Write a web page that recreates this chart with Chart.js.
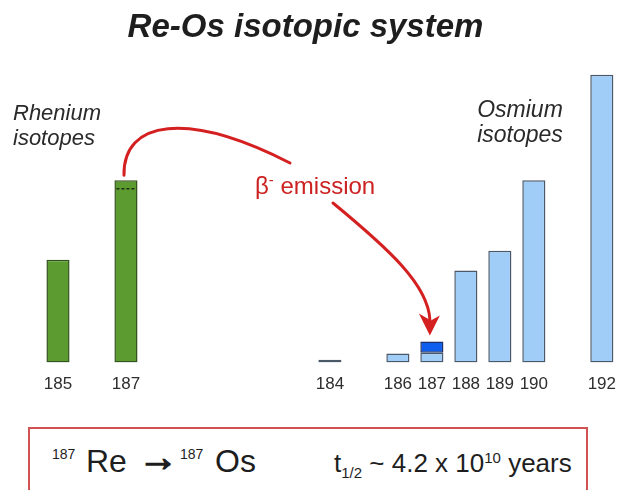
<!DOCTYPE html>
<html>
<head>
<meta charset="utf-8">
<script src="https://cdn.jsdelivr.net/npm/chart.js@4"></script>
<style>
    body {
        margin: 0;
        width: 628px;
        height: 490px;
        overflow: hidden;
        background: #fff;
        font-family: "Liberation Sans", Arial, sans-serif;
    }
    #wrap { position: relative; width: 628px; height: 490px; }
    #wrap canvas { position: absolute; left: 0; top: 0; }
    .txt { position: absolute; line-height: 1; white-space: nowrap; color: #1e1e1e; }
    .title { left: 0; width: 611px; top: 9px; text-align: center; font-size: 33px; font-weight: bold; font-style: italic; }
    .group { font-size: 22px; font-style: italic; line-height: 25px; color: #2a2a2a; }
    .beta { left: 255px; top: 172px; font-size: 24px; color: #cc2222; }
    .beta sup { font-size: 15px; vertical-align: 9px; }
    .arrow { -webkit-text-stroke: 1.4px #1e1e1e; }
    .box {
        position: absolute;
        left: 28px; top: 427px;
        width: 556px; height: 90px;
        border: 2px solid #d05252;
    }
</style>
</head>
<body>
<div id="wrap">
    <canvas id="isoChart" width="628" height="414"></canvas>

    <div class="txt title">Re-Os isotopic system</div>
    <div class="txt group" style="left:13px; top:100px;">Rhenium<br>isotopes</div>
    <div class="txt group" style="left:460px; width:120px; top:97px; text-align:center; font-size:23px;">Osmium<br>isotopes</div>
    <div class="txt beta">β<sup>-</sup> emission</div>

    <div class="box"></div>
    <div class="txt" style="left:52px; top:447px; font-size:14px;">187</div>
    <div class="txt" style="left:86px; top:445px; font-size:32px;">Re</div>
    <div class="txt arrow" style="left:138px; top:437px; font-size:40px; font-weight:bold;">→</div>
    <div class="txt" style="left:180px; top:447px; font-size:14px;">187</div>
    <div class="txt" style="left:215px; top:445px; font-size:32px;">Os</div>
    <div class="txt" style="left:334px; top:450px; font-size:26px;">t<span style="font-size:15px; vertical-align:-6px;">1/2</span> ~ 4.2 x 10<span style="font-size:15px; vertical-align:9px;">10</span> years</div>
</div>

<script>
// mass numbers along the bottom, blank slots keep the two groups apart
const massLabels = ['185', '', '187', '', '', '', '', '', '184', '', '186', '187', '188', '189', '190', '', '192'];

// relative abundances (same arbitrary scale for both elements)
const rheniumValues = [14.6, null, 25.9, null, null, null, null, null, null, null, null, null, null, null, null, null, null];
const osmiumValues = [null, null, null, null, null, null, null, null, 0.4, null, 1.3, 1.4, 13.1, 15.9, 25.9, null, 40.9];

// 187Os added by decay, and the 187Re that decayed away
const radiogenicOs = [null, null, null, null, null, null, null, null, null, null, null, 1.6, null, null, null, null, null];
const decayedRe = [null, null, 1.2, null, null, null, null, null, null, null, null, null, null, null, null, null, null];

const RED = '#d42020';

// dashed line inside the 187Re bar marking the part that decays
const decayLinePlugin = {
    id: 'decayLine',
    afterDatasetsDraw(chart) {
        const ctx = chart.ctx;
        const y = chart.scales.y;
        const meta = chart.getDatasetMeta(0);
        decayedRe.forEach((d, i) => {
            if (!d) return;
            const bar = meta.data[i];
            const py = y.getPixelForValue(rheniumValues[i] - d);
            ctx.save();
            ctx.strokeStyle = '#1d2e12';
            ctx.lineWidth = 1.5;
            ctx.setLineDash([3, 2]);
            ctx.beginPath();
            ctx.moveTo(bar.x - bar.width / 2 + 2, py);
            ctx.lineTo(bar.x + bar.width / 2 - 2, py);
            ctx.stroke();
            ctx.restore();
        });
    }
};

// red arrow from the 187Re bar over to the 187Os bar
const decayArrowPlugin = {
    id: 'decayArrow',
    afterDatasetsDraw(chart) {
        const ctx = chart.ctx;
        const from = chart.getDatasetMeta(0).data[2];
        const to = chart.getDatasetMeta(2).data[11];
        const sx = from.x - 2, sy = from.y - 5;
        const tx = to.x - 2, ty = to.y - 6;

        ctx.save();
        ctx.strokeStyle = RED;
        ctx.fillStyle = RED;
        ctx.lineWidth = 3;
        ctx.lineCap = 'round';

        // first leg: up and over to the label
        ctx.beginPath();
        ctx.moveTo(sx, sy);
        ctx.bezierCurveTo(sx - 1, sy - 55, sx + 63, sy - 65, 290, 163);
        ctx.stroke();

        // second leg: from under the label down to the bar
        ctx.beginPath();
        ctx.moveTo(333, 203);
        ctx.bezierCurveTo(390, 250, 428, 285, tx, ty - 16);
        ctx.stroke();

        // arrow head
        ctx.beginPath();
        ctx.moveTo(tx, ty);
        ctx.lineTo(tx - 11, ty - 22);
        ctx.lineTo(tx + 1, ty - 15);
        ctx.lineTo(tx + 10, ty - 20);
        ctx.closePath();
        ctx.fill();
        ctx.restore();
    }
};

const barDefaults = {
    borderWidth: 1.5,
    borderSkipped: false,
    barPercentage: 0.68,
    categoryPercentage: 1
};

new Chart(document.getElementById('isoChart'), {
    type: 'bar',
    data: {
        labels: massLabels,
        datasets: [
            Object.assign({
                label: 'Rhenium',
                data: rheniumValues,
                backgroundColor: '#5c9b2f',
                borderColor: '#34521f'
            }, barDefaults),
            Object.assign({
                label: 'Osmium',
                data: osmiumValues,
                backgroundColor: '#9fcdf7',
                borderColor: '#4b5867'
            }, barDefaults),
            Object.assign({
                label: 'Radiogenic Os',
                data: radiogenicOs,
                backgroundColor: '#0f5fee',
                borderColor: '#1c2f66'
            }, barDefaults)
        ]
    },
    options: {
        responsive: false,
        animation: false,
        layout: {
            padding: { left: 41, right: 0, top: 60, bottom: 7 }
        },
        plugins: {
            legend: { display: false },
            title: { display: false },
            tooltip: { enabled: false }
        },
        scales: {
            x: {
                stacked: true,
                grid: { display: false, drawTicks: false },
                border: { display: false },
                ticks: {
                    padding: 12,
                    autoSkip: false,
                    maxRotation: 0,
                    color: '#2e2e2e',
                    font: { family: 'Liberation Sans', size: 17 }
                }
            },
            y: {
                display: false,
                stacked: true,
                min: 0,
                max: 43
            }
        }
    },
    plugins: [decayLinePlugin, decayArrowPlugin]
});
</script>
</body>
</html>
